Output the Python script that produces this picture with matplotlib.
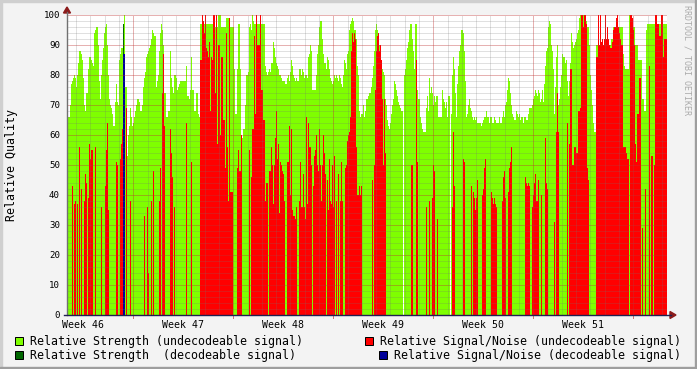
import numpy as np
import matplotlib
matplotlib.use("Agg")
import matplotlib.pyplot as plt
from matplotlib.patches import Rectangle, Polygon
from matplotlib.lines import Line2D
from datetime import datetime, timedelta

# ---------------- data ----------------
start = datetime(2011, 11, 16, 8, 36)   # first sample
step_h = 1.68                            # hours per sample

strength_undec = [
    72,66,66,70,77,78,79,80,79,76,80,84,88,88,87,85,79,70,68,74,
    74,82,86,86,85,84,83,94,95,96,96,90,78,72,80,85,89,94,96,97,
    90,80,72,70,69,67,63,63,71,77,71,70,85,87,89,89,97,100,76,76,
    53,60,63,69,66,63,64,66,68,70,72,72,71,68,68,70,76,79,81,86,
    87,88,89,90,92,95,94,93,93,76,78,80,88,94,97,95,90,74,74,66,
    66,68,68,88,79,76,74,80,80,79,75,76,77,78,78,78,78,78,78,83,
    73,73,72,75,86,75,75,68,68,74,74,67,66,97,97,97,97,97,97,97,
    97,97,97,97,97,97,96,96,96,96,96,100,100,100,96,96,96,96,96,99,
    99,99,99,96,96,96,96,82,67,67,82,97,97,82,60,59,62,62,70,80,
    80,81,96,97,95,100,98,97,97,97,97,97,97,97,97,97,97,97,83,81,
    80,81,82,81,84,84,91,89,86,84,83,82,80,80,79,78,78,78,77,77,
    79,80,78,81,85,83,80,79,78,79,78,78,82,82,80,82,81,79,80,80,
    79,86,87,90,88,75,75,75,75,80,87,90,96,98,98,92,87,84,84,82,
    86,85,82,79,78,77,78,80,79,80,79,78,80,79,77,76,80,85,84,82,
    87,88,95,97,98,99,98,95,95,92,83,80,68,66,67,67,70,66,68,72,
    72,73,74,74,76,79,83,88,95,97,95,94,90,88,85,82,81,80,72,70,
    65,63,62,64,67,70,72,78,77,75,73,71,70,69,68,68,0,80,82,85,
    89,91,95,97,97,92,88,82,97,97,75,72,72,66,64,62,61,61,61,69,
    73,68,79,74,76,74,70,73,71,73,73,66,66,66,66,75,72,71,69,71,
    66,73,73,0,67,80,86,82,74,66,77,83,88,90,95,95,94,88,78,66,
    67,70,72,69,68,66,65,66,65,66,64,64,64,64,63,64,65,66,66,68,
    66,66,64,66,66,64,64,66,65,64,64,64,66,64,64,66,68,66,70,71,
    75,79,78,74,70,67,66,65,65,68,67,66,67,65,66,66,64,66,66,65,
    65,67,69,69,69,70,72,73,75,74,73,75,74,71,72,75,71,77,83,88,
    89,96,98,97,90,88,82,67,76,86,90,70,72,76,80,87,86,86,84,85,
    78,73,78,84,94,91,89,90,91,92,94,95,99,100,100,100,100,100,100,98,
    96,96,90,80,75,70,64,61,61,90,90,90,90,90,90,90,90,90,90,90,
    90,90,90,90,92,92,96,96,96,96,96,96,96,96,96,96,87,83,82,82,
    82,82,100,100,92,92,96,96,90,90,90,85,85,85,85,72,72,68,68,95,
    97,97,97,97,97,97,97,97,97,97,97,97,97,97,97,97,97,97,97,97,
]

snr_undec = [
    79,0,0,0,0,43,0,37,38,0,37,0,56,0,42,0,0,38,47,44,
    0,39,57,52,55,55,0,0,56,0,0,0,0,0,36,0,0,0,43,55,
    64,35,0,0,0,0,0,0,0,51,50,0,0,52,57,62,0,0,0,69,
    0,0,0,38,0,0,0,0,0,0,0,0,0,0,0,0,0,33,0,0,
    36,14,0,0,38,0,48,0,0,0,0,0,38,49,0,74,87,63,0,0,
    0,0,0,62,54,46,0,36,0,0,0,0,0,0,0,0,0,0,0,64,
    0,0,0,0,51,0,0,0,0,0,0,0,0,85,85,100,98,94,100,89,
    88,86,91,68,86,85,100,100,74,100,57,90,90,60,86,86,65,65,49,94,
    56,38,99,41,41,41,0,0,0,0,49,55,48,48,60,0,0,0,0,0,
    0,0,55,0,46,62,62,93,67,100,90,90,90,100,75,75,65,65,38,44,
    44,0,48,48,56,50,37,50,59,68,52,57,34,51,50,48,47,38,0,0,
    51,51,63,40,62,35,33,33,32,36,0,0,38,51,36,36,47,36,32,66,
    37,64,56,56,50,0,43,53,55,60,50,48,62,50,38,50,60,54,47,0,
    45,35,52,38,37,50,36,53,0,38,0,47,0,38,51,38,0,0,49,50,
    58,60,61,66,88,94,91,94,92,56,40,40,43,40,43,0,0,0,0,0,
    0,0,0,0,0,45,0,50,75,88,93,94,88,90,85,72,50,72,54,0,
    0,0,0,0,0,0,0,0,0,0,0,0,0,0,0,0,0,0,0,0,
    0,0,0,0,50,50,0,0,0,85,51,0,0,0,0,0,0,0,0,36,
    0,0,38,0,0,39,50,48,0,0,32,0,0,0,0,0,0,0,0,0,
    0,0,0,0,0,36,61,43,0,0,0,0,0,0,0,0,52,51,0,0,
    0,0,0,0,43,0,41,39,35,39,45,0,0,0,0,40,42,49,52,0,
    0,0,0,0,41,39,37,39,37,36,0,0,0,0,0,38,46,48,39,0,
    0,41,49,51,56,0,0,0,0,0,0,0,0,0,0,0,0,0,46,44,
    43,44,43,0,0,36,40,44,47,38,38,45,0,0,40,0,0,0,59,44,
    42,0,0,0,0,0,0,31,0,61,74,61,0,0,0,0,0,0,0,0,
    64,0,57,82,82,50,50,56,56,54,54,68,68,69,100,100,96,100,100,97,
    49,45,0,0,0,0,0,0,0,86,86,100,90,100,91,92,90,92,100,92,
    96,92,90,89,89,91,95,96,96,99,100,96,94,92,90,90,56,56,56,54,
    52,52,0,100,100,99,95,90,57,51,67,67,79,79,0,29,0,0,42,0,
    0,0,83,0,53,53,0,50,100,100,97,97,93,93,100,100,86,92,92,92,
]

# decodeable signal: only a few samples carry values
dec_index = [56, 57]
strength_dec = [97, 0]
snr_dec = [87, 87]

y_ticks = [0, 10, 20, 30, 40, 50, 60, 70, 80, 90, 100]
legend_labels = [
    "Relative Strength (undecodeable signal)",
    "Relative Signal/Noise (undecodeable signal)",
    "Relative Strength  (decodeable signal)",
    "Relative Signal/Noise (decodeable signal)",
]
colors = ["#7FFF00", "#FF0000", "#006600", "#000099"]

# ---------------- figure ----------------
W, H, DPI = 697, 369, 100
MONO = "DejaVu Sans Mono"
n = len(strength_undec)
assert n == len(snr_undec) == 600
edges = np.arange(n + 1) * step_h
total_h = n * step_h

sd = np.zeros(n); sn = np.zeros(n)
for k, i in enumerate(dec_index):
    sd[i] = strength_dec[k]
    sn[i] = snr_dec[k]

fig = plt.figure(figsize=(W / DPI, H / DPI), dpi=DPI)
fig.patch.set_facecolor("#F3F3F3")

def fx(px):
    return px / W

def fy(py):
    return 1 - py / H

X0, X1, Y0, Y1 = 67, 667, 315, 15
ax = fig.add_axes([fx(X0), fy(Y0), (X1 - X0) / W, (Y0 - Y1) / H])
ax.set_xlim(0, total_h)
ax.set_ylim(0, 100)
ax.set_facecolor("white")
for s in ax.spines.values():
    s.set_visible(False)
ax.set_xticks([]); ax.set_yticks([])

for vals, c, z in [(strength_undec, colors[0], 1), (snr_undec, colors[1], 2),
                   (sd, colors[2], 3), (sn, colors[3], 4)]:
    ax.stairs(vals, edges, fill=True, color=c, linewidth=0,
              antialiased=False, zorder=z)

# grid (drawn on top of data, rrdtool style)
minor_c = (0.45, 0.45, 0.45, 0.22)
major_c = (0.75, 0.2, 0.2, 0.38)
dots = (0, (1, 1))
for v in range(2, 101, 2):
    c = major_c if v % 10 == 0 else minor_c
    ax.axhline(v, color=c, lw=0.72, ls=dots, zorder=6, antialiased=False)

def hours(dt):
    return (dt - start).total_seconds() / 3600.0

day = datetime(start.year, start.month, start.day) + timedelta(days=1)
end = start + timedelta(hours=total_h)
while day < end:
    h = hours(day)
    c = major_c if day.weekday() == 0 else minor_c
    ax.axvline(h, color=c, lw=0.72, ls=dots, zorder=6, antialiased=False)
    if day.weekday() == 0:
        xp = X0 + h / step_h
        fig.add_artist(Line2D([fx(xp), fx(xp)], [fy(Y0), fy(Y0 + 3)],
                              color="#C04040", lw=0.72, alpha=0.7))
    day += timedelta(days=1)

# week labels centred in each week
monday = datetime(start.year, start.month, start.day) - timedelta(days=start.weekday())
while monday < end:
    mid = monday + timedelta(hours=84)
    h = hours(mid)
    if 0 <= h <= total_h:
        xp = X0 + h / step_h
        wk = mid.isocalendar()[1]
        fig.text(fx(xp), fy(325), f"Week {wk}", ha="center", va="center",
                 family=MONO, fontsize=7.1, color="#000000")
    monday += timedelta(days=7)

# y tick labels
for v in y_ticks:
    fig.text(fx(60), fy(Y0 - 3 * v), str(v), ha="right", va="center",
             family=MONO, fontsize=6.6, color="#000000")

# axes lines and arrows
fig.add_artist(Line2D([fx(X0), fx(X0)], [fy(Y0), fy(12)], color="#707070", lw=1.0))
fig.add_artist(Line2D([fx(64), fx(671)], [fy(Y0), fy(Y0)], color="#202050", lw=1.0))
fig.add_artist(Polygon([[fx(63.5), fy(13)], [fx(70.5), fy(13)], [fx(67), fy(7)]],
                       closed=True, color="#8B1A1A", transform=fig.transFigure))
fig.add_artist(Polygon([[fx(670), fy(311.5)], [fx(670), fy(318.5)], [fx(676), fy(315)]],
                       closed=True, color="#8B1A1A", transform=fig.transFigure))

# y axis title
fig.text(fx(12), fy(165), "Relative Quality", rotation=90, ha="center", va="center",
         family=MONO, fontsize=8.4, color="#000000")

# watermark
fig.text(fx(687), fy(5), "RRDTOOL / TOBI OETIKER", rotation=270, ha="center", va="top",
         family=MONO, fontsize=6, color="#ABABAB")

# legend
leg_pos = [(15, 337, 30), (365, 337, 380), (15, 351, 30), (379, 351, 394)]
for (bx, by, tx), lab, c in zip(leg_pos, legend_labels, colors):
    fig.add_artist(Rectangle((fx(bx), fy(by + 8)), 8 / W, 8 / H, facecolor=c,
                             edgecolor="black", lw=0.72, transform=fig.transFigure))
    fig.text(fx(tx), fy(by + 4), lab, ha="left", va="center",
             family=MONO, fontsize=8.4, color="#000000")

# frame
fig.add_artist(Rectangle((0, fy(2)), 1, 2 / H, color="#CFCFCF", transform=fig.transFigure))
fig.add_artist(Rectangle((0, 0), 2 / W, 1, color="#CFCFCF", transform=fig.transFigure))
fig.add_artist(Rectangle((0, 0), 1, 2 / H, color="#9E9E9E", transform=fig.transFigure))
fig.add_artist(Rectangle((fx(695), 0), 2 / W, 1, color="#9E9E9E", transform=fig.transFigure))

fig.savefig("out.png", dpi=DPI, facecolor=fig.get_facecolor())
